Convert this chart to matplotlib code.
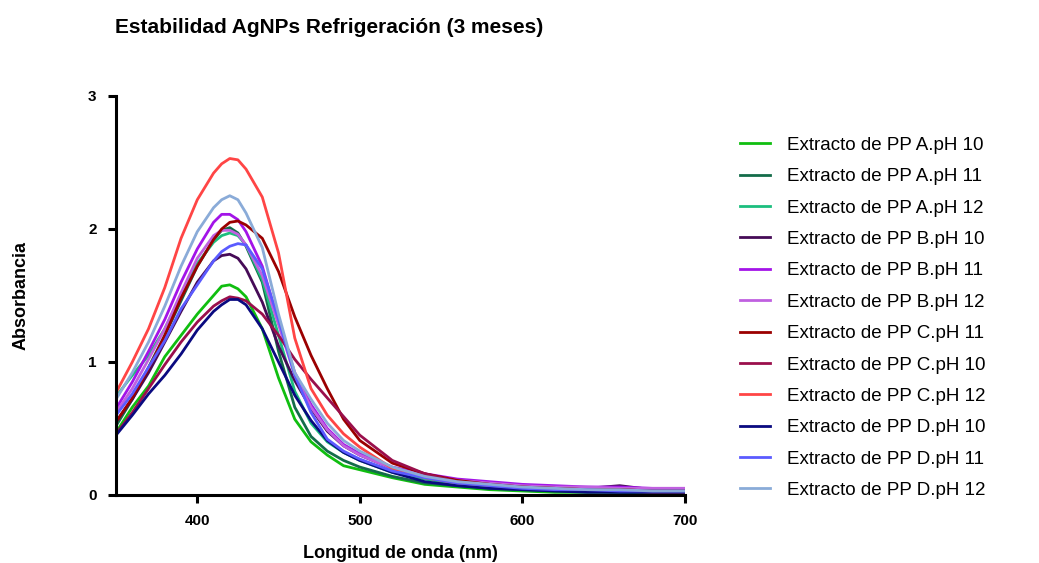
import matplotlib.pyplot as plt

plt.rcParams['font.family'] = ['Liberation Sans', 'DejaVu Sans']

# Longitudes de onda (nm)
wl = [350, 360, 370, 380, 390, 400, 410, 415, 420, 425, 430, 440, 450, 460,
      470, 480, 490, 500, 520, 540, 560, 580, 600, 620, 640, 660, 680, 700]

# Absorbancia por muestra
a_ph10 = [0.47, 0.66, 0.82, 1.04, 1.20, 1.36, 1.50, 1.57, 1.58, 1.55, 1.49, 1.25, 0.88, 0.57,
          0.40, 0.30, 0.22, 0.19, 0.13, 0.08, 0.06, 0.04, 0.03, 0.02, 0.02, 0.02, 0.01, 0.02]
a_ph11 = [0.52, 0.72, 0.96, 1.20, 1.46, 1.72, 1.92, 1.99, 2.01, 1.97, 1.87, 1.60, 1.08, 0.66,
          0.44, 0.33, 0.26, 0.21, 0.14, 0.09, 0.07, 0.05, 0.04, 0.03, 0.03, 0.02, 0.02, 0.02]
a_ph12 = [0.74, 0.90, 1.05, 1.25, 1.50, 1.74, 1.90, 1.95, 1.97, 1.95, 1.88, 1.62, 1.20, 0.78,
          0.54, 0.40, 0.32, 0.26, 0.17, 0.12, 0.08, 0.06, 0.05, 0.04, 0.03, 0.03, 0.03, 0.03]
b_ph10 = [0.55, 0.72, 0.92, 1.15, 1.38, 1.60, 1.76, 1.80, 1.81, 1.78, 1.70, 1.45, 1.12, 0.86,
          0.65, 0.48, 0.37, 0.30, 0.20, 0.15, 0.11, 0.09, 0.07, 0.05, 0.05, 0.07, 0.04, 0.04]
b_ph11 = [0.65, 0.85, 1.08, 1.32, 1.60, 1.85, 2.05, 2.11, 2.11, 2.07, 1.98, 1.72, 1.30, 0.92,
          0.68, 0.50, 0.38, 0.31, 0.21, 0.16, 0.12, 0.10, 0.08, 0.07, 0.06, 0.06, 0.05, 0.05]
b_ph12 = [0.62, 0.80, 1.02, 1.25, 1.52, 1.78, 1.95, 1.99, 1.99, 1.96, 1.88, 1.65, 1.28, 0.90,
          0.66, 0.49, 0.37, 0.30, 0.20, 0.15, 0.11, 0.09, 0.07, 0.06, 0.06, 0.05, 0.05, 0.05]
c_ph11 = [0.55, 0.73, 0.95, 1.20, 1.48, 1.72, 1.92, 2.00, 2.05, 2.06, 2.03, 1.93, 1.68, 1.34,
          1.05, 0.80, 0.57, 0.41, 0.24, 0.16, 0.11, 0.08, 0.06, 0.05, 0.04, 0.04, 0.03, 0.03]
c_ph10 = [0.46, 0.62, 0.80, 0.98, 1.15, 1.30, 1.42, 1.46, 1.49, 1.48, 1.46, 1.36, 1.20, 1.02,
          0.87, 0.73, 0.59, 0.45, 0.26, 0.16, 0.10, 0.08, 0.06, 0.05, 0.04, 0.04, 0.03, 0.03]
c_ph12 = [0.77, 1.00, 1.25, 1.56, 1.93, 2.22, 2.42, 2.49, 2.53, 2.52, 2.45, 2.24, 1.82, 1.18,
          0.80, 0.60, 0.46, 0.36, 0.20, 0.13, 0.09, 0.07, 0.05, 0.04, 0.03, 0.03, 0.02, 0.02]
d_ph10 = [0.45, 0.60, 0.76, 0.90, 1.06, 1.24, 1.38, 1.43, 1.47, 1.47, 1.43, 1.25, 1.00, 0.75,
          0.56, 0.41, 0.32, 0.26, 0.17, 0.10, 0.07, 0.05, 0.04, 0.03, 0.02, 0.02, 0.02, 0.02]
d_ph11 = [0.60, 0.76, 0.96, 1.16, 1.40, 1.58, 1.76, 1.83, 1.87, 1.89, 1.88, 1.70, 1.32, 0.90,
          0.62, 0.42, 0.33, 0.27, 0.18, 0.13, 0.09, 0.07, 0.05, 0.04, 0.04, 0.03, 0.03, 0.03]
d_ph12 = [0.72, 0.92, 1.15, 1.42, 1.72, 1.98, 2.16, 2.22, 2.25, 2.22, 2.12, 1.86, 1.36, 0.92,
          0.72, 0.54, 0.41, 0.33, 0.21, 0.14, 0.10, 0.08, 0.06, 0.05, 0.04, 0.04, 0.03, 0.03]

series = [a_ph10, a_ph11, a_ph12, b_ph10, b_ph11, b_ph12,
          c_ph11, c_ph10, c_ph12, d_ph10, d_ph11, d_ph12]
labels = ['Extracto de PP A.pH 10', 'Extracto de PP A.pH 11', 'Extracto de PP A.pH 12',
          'Extracto de PP B.pH 10', 'Extracto de PP B.pH 11', 'Extracto de PP B.pH 12',
          'Extracto de PP C.pH 11', 'Extracto de PP C.pH 10', 'Extracto de PP C.pH 12',
          'Extracto de PP D.pH 10', 'Extracto de PP D.pH 11', 'Extracto de PP D.pH 12']
colors = ['#10BE10', '#146C4A', '#1CBE7E', '#460B57', '#A314E8', '#C060E0',
          '#9B0000', '#9A0F4C', '#FF4545', '#0A0A80', '#5B5BFF', '#8AABD8']

fig = plt.figure(figsize=(10.39, 5.63), dpi=100)
ax = fig.add_axes([0.1117, 0.1208, 0.5473, 0.7087])

for y, lab, c in zip(series, labels, colors):
    ax.plot(wl, y, color=c, lw=2.0, label=lab)

ax.set_xlim(350, 700)
ax.set_ylim(0, 3)
ax.set_xticks([400, 500, 600, 700])
ax.set_yticks([0, 1, 2, 3])
for s in ['top', 'right']:
    ax.spines[s].set_visible(False)
for s in ['left', 'bottom']:
    ax.spines[s].set_linewidth(2.2)
ax.tick_params(width=2.2, length=6, labelsize=11, pad=8)
for t in ax.get_xticklabels() + ax.get_yticklabels():
    t.set_fontweight('bold')

ax.set_xlabel('Longitud de onda (nm)', fontsize=13, fontweight='bold', labelpad=12)
ax.set_ylabel('Absorbancia', fontsize=13, fontweight='bold', labelpad=42)
fig.text(0.111, 0.952, 'Estabilidad AgNPs Refrigeración (3 meses)', fontsize=15,
         fontweight='bold', ha='left', va='center')

fig.legend(loc='upper left', bbox_to_anchor=(0.696, 0.787), frameon=False,
           fontsize=13.5, handlelength=1.6, handletextpad=0.9, labelspacing=0.76)

plt.savefig('out.png', dpi=100)
